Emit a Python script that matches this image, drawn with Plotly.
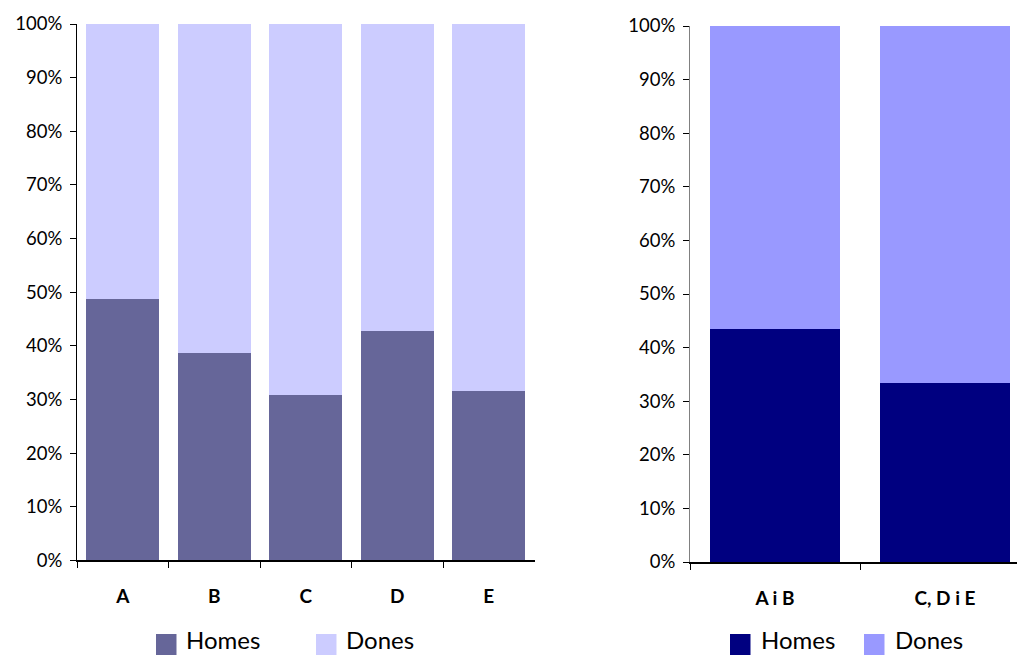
import plotly.graph_objects as go

W, H = 1017, 655

# ---- data ----
left_categories = ["A", "B", "C", "D", "E"]
left_homes = [48.7, 38.7, 30.8, 42.7, 31.5]
left_dones = [51.3, 61.3, 69.2, 57.3, 68.5]

right_categories = ["A i B", "C, D i E"]
right_homes = [43.5, 33.4]
right_dones = [56.5, 66.6]

series_names = ["Homes", "Dones"]
left_colors = ["#666699", "#CCCCFF"]
right_colors = ["#000080", "#9999FF"]

y_ticks = list(range(0, 101, 10))
y_tick_labels = [f"{v}%" for v in y_ticks]

FONT = "Lato"


def fx(px):
    return px / W


def fy(py):
    return 1 - py / H


fig = go.Figure()

for name, vals, col in zip(series_names, [left_homes, left_dones], left_colors):
    fig.add_trace(go.Bar(x=left_categories, y=vals, name=name, marker_color=col,
                         marker_line_width=0, width=0.8, showlegend=False,
                         xaxis="x", yaxis="y"))

for name, vals, col in zip(series_names, [right_homes, right_dones], right_colors):
    fig.add_trace(go.Bar(x=right_categories, y=vals, name=name, marker_color=col,
                         marker_line_width=0, width=0.77, showlegend=False,
                         xaxis="x2", yaxis="y2"))

yax = dict(range=[0, 100], tickmode="array", tickvals=y_ticks, ticktext=y_tick_labels,
           ticks="outside", ticklen=6, tickcolor="black", showgrid=False,
           showline=True, linewidth=1, zeroline=False, automargin=False,
           tickfont=dict(family=FONT, size=18.5, color="black"), ticklabelstandoff=4)
xax = dict(type="category", ticks="outside", tickson="boundaries", ticklen=6,
           tickcolor="black", showgrid=False, showline=True, linecolor="black",
           linewidth=1.5, zeroline=False, automargin=False,
           tickfont=dict(family=FONT, size=19, color="black", weight="bold"),
           ticklabelstandoff=18)

fig.update_layout(
    width=W, height=H,
    margin=dict(l=0, r=0, t=0, b=0, autoexpand=False),
    paper_bgcolor="white", plot_bgcolor="white",
    barmode="stack",
    xaxis=dict(xax, domain=[fx(77), fx(534.5)], anchor="y", range=[-0.5, 4.5]),
    yaxis=dict(yax, domain=[fy(560.3), fy(24)], anchor="x", linecolor="black"),
    xaxis2=dict(xax, domain=[fx(690), 1.0], anchor="y2", range=[-0.5, 1.4235]),
    yaxis2=dict(yax, domain=[fy(562), fy(26)], anchor="x2", linecolor="#808080"),
)

# legends (drawn manually to match the square size)
legend_items = [
    (156, 185, "Homes", left_colors[0]), (316, 345, "Dones", left_colors[1]),
    (730, 760, "Homes", right_colors[0]), (864, 894, "Dones", right_colors[1]),
]
for sq_x, tx, label, col in legend_items:
    fig.add_shape(type="rect", xref="paper", yref="paper",
                  x0=fx(sq_x), x1=fx(sq_x + 20.5), y0=fy(655), y1=fy(634),
                  fillcolor=col, line_width=0)
    fig.add_annotation(xref="paper", yref="paper", x=fx(tx), y=0,
                       xanchor="left", yanchor="bottom", showarrow=False,
                       borderpad=0,
                       text=label, font=dict(family=FONT, size=24, color="black"))

fig.write_html(
    "out.html",
    config={"displayModeBar": False},
    post_script="document.body.style.margin='0';document.body.style.overflow='hidden';",
)
